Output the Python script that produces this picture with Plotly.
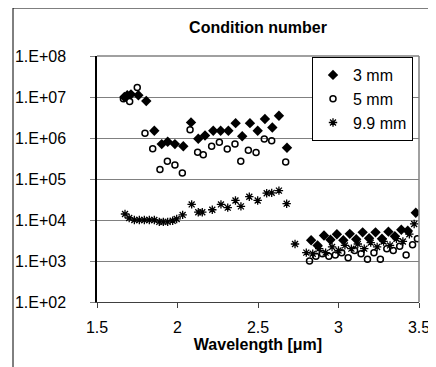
import plotly.graph_objects as go

# ---------------- data ----------------
wl_3mm = [1.670, 1.688, 1.711, 1.757, 1.806, 1.856, 1.902, 1.939, 1.984, 2.036, 2.084,
          2.129, 2.171, 2.222, 2.268, 2.316, 2.361, 2.402, 2.450, 2.498, 2.543, 2.589,
          2.630, 2.680,
          2.83, 2.87, 2.91, 2.95, 2.99, 3.03, 3.07, 3.11, 3.15,
          3.19, 3.23, 3.27, 3.31, 3.35, 3.39, 3.43, 3.48]
cn_3mm = [1.0e7, 1.1e7, 1.16e7, 1.1e7, 8.0e6, 1.5e6, 7.1e5, 8.1e5, 7.1e5, 6.3e5, 2.4e6,
          9.6e5, 1.15e6, 1.5e6, 1.5e6, 1.5e6, 2.3e6, 1.1e6, 2.3e6, 1.5e6, 2.9e6, 1.8e6,
          3.5e6, 5.8e5,
          3.2e3, 2.4e3, 4.2e3, 3.3e3, 4.5e3, 3.2e3, 4.6e3, 3.4e3, 5.0e3,
          3.6e3, 5.0e3, 3.5e3, 5.2e3, 4.0e3, 5.8e3, 5.5e3, 1.5e4]

wl_5mm = [1.664, 1.703, 1.750, 1.798, 1.846, 1.891, 1.937, 1.984, 2.030, 2.078,
          2.125, 2.160, 2.212, 2.260, 2.309, 2.357, 2.393, 2.440, 2.488, 2.539, 2.585,
          2.672,
          2.82, 2.86, 2.90, 2.94, 2.98, 3.02, 3.06, 3.10, 3.14,
          3.18, 3.22, 3.26, 3.30, 3.34, 3.38, 3.42, 3.46, 3.49]
cn_5mm = [9.1e6, 7.8e6, 1.7e7, 1.3e6, 5.5e5, 1.7e5, 2.7e5, 2.2e5, 1.4e5, 1.6e6,
          4.5e5, 3.9e5, 6.3e5, 7.9e5, 5.4e5, 7.1e5, 2.7e5, 5.0e5, 4.4e5, 9.5e5, 8.6e5,
          2.6e5,
          1.0e3, 1.3e3, 1.5e3, 1.3e3, 1.4e3, 1.6e3, 1.2e3, 1.8e3, 1.5e3,
          1.1e3, 1.6e3, 1.1e3, 2.0e3, 1.8e3, 2.3e3, 1.4e3, 2.5e3, 3.5e3]

wl_99mm = [1.674, 1.700, 1.732, 1.763, 1.794, 1.825, 1.856, 1.887, 1.912, 1.939, 1.970,
           1.995, 2.032, 2.088, 2.129, 2.154, 2.216, 2.270, 2.312, 2.360, 2.394, 2.446,
           2.498, 2.554, 2.585, 2.630, 2.678,
           2.73, 2.80, 2.84, 2.88, 2.92, 2.96, 3.00, 3.04, 3.08, 3.12, 3.16,
           3.20, 3.24, 3.28, 3.32, 3.36, 3.40, 3.44, 3.47]
cn_99mm = [1.4e4, 1.12e4, 1.0e4, 1.0e4, 1.0e4, 1.0e4, 1.0e4, 9.0e3, 9.0e3, 9.0e3, 9.6e3,
           1.06e4, 1.33e4, 2.4e4, 1.55e4, 1.55e4, 1.78e4, 2.4e4, 2.0e4, 3.0e4, 2.15e4, 3.7e4,
           3.0e4, 4.5e4, 4.6e4, 5.2e4, 2.5e4,
           2.6e3, 1.6e3, 1.5e3, 2.0e3, 1.6e3, 2.2e3, 1.8e3, 2.4e3, 2.0e3, 2.6e3, 2.0e3,
           2.8e3, 2.2e3, 3.0e3, 2.4e3, 3.5e3, 3.0e3, 4.5e3, 8.0e3]

series_names = ["3 mm", "5 mm", "9.9 mm"]
y_tickvals = [1e2, 1e3, 1e4, 1e5, 1e6, 1e7, 1e8]
y_ticktext = ["1.E+02", "1.E+03", "1.E+04", "1.E+05", "1.E+06", "1.E+07", "1.E+08"]
x_tickvals = [1.5, 2.0, 2.5, 3.0, 3.5]
x_ticktext = ["1.5", "2", "2.5", "3", "3.5"]

FONT = "Liberation Sans, Arial, sans-serif"

# page has an 8px body margin: figure occupies 8..436 x 8..367 of the window
W, H = 428, 359
L, T = 89, 48
PW, PH = 322, 246

fig = go.Figure()
fig.add_trace(go.Scatter(x=wl_3mm, y=cn_3mm, mode="markers", name=series_names[0],
                         marker=dict(symbol="diamond", size=8, color="black")))
fig.add_trace(go.Scatter(x=wl_5mm, y=cn_5mm, mode="markers", name=series_names[1],
                         marker=dict(symbol="circle-open", size=6, color="black",
                                     line=dict(width=1.5, color="black"))))
fig.add_trace(go.Scatter(x=wl_99mm, y=cn_99mm, mode="markers", name=series_names[2],
                         marker=dict(symbol="asterisk-open", size=7, color="black",
                                     line=dict(width=1.3, color="black"))))

fig.update_layout(
    width=W, height=H,
    margin=dict(l=L, r=W - L - PW, t=T, b=H - T - PH, autoexpand=False),
    paper_bgcolor="white", plot_bgcolor="white",
    font=dict(family=FONT, size=16, color="black"),
    title=dict(text="<b>Condition number</b>", x=(258 - 8) / W, xanchor="center",
               xref="container", yref="container",
               y=1 - (27 - 8) / H, yanchor="middle", font=dict(size=16, family=FONT)),
    showlegend=True,
    legend=dict(x=(312 - 97) / PW, y=(302 - 57) / PH, xanchor="left", yanchor="top",
                bgcolor="white", bordercolor="black", borderwidth=1,
                font=dict(size=16, family=FONT), tracegroupgap=0,
                itemwidth=30),
    shapes=[
        dict(type="line", xref="paper", yref="paper",
             x0=(13 - 97) / PW, x1=(440 - 97) / PW,
             y0=(302 - 8) / PH, y1=(302 - 8) / PH,
             line=dict(color="black", width=1)),
        dict(type="line", xref="paper", yref="paper",
             x0=(13 - 97) / PW, x1=(13 - 97) / PW,
             y0=(302 - 370) / PH, y1=(302 - 8) / PH,
             line=dict(color="black", width=1)),
        dict(type="line", xref="paper", yref="paper", x0=0, x1=1, y0=1, y1=1,
             line=dict(color="#808080", width=1.5)),
        dict(type="line", xref="paper", yref="paper", x0=1, x1=1, y0=0, y1=1,
             line=dict(color="#808080", width=1.5)),
    ],
)

fig.update_xaxes(range=[1.5, 3.5], tickvals=x_tickvals, ticktext=x_ticktext,
                 automargin=False,
                 showgrid=False, showline=True, linecolor="#404040", linewidth=1,
                 mirror=False, ticks="outside", ticklen=5, tickcolor="#404040",
                 zeroline=False, tickfont=dict(size=16), ticklabelstandoff=6,
                 title=dict(text="<b>Wavelength [μm]</b>", standoff=3,
                            font=dict(size=16)))
fig.update_yaxes(type="log", range=[2, 8], tickvals=y_tickvals, ticktext=y_ticktext,
                 automargin=False,
                 showgrid=True, gridcolor="#808080", gridwidth=1,
                 showline=True, linecolor="black", linewidth=1.5,
                 ticks="outside", ticklen=5, tickcolor="#808080",
                 zeroline=False, tickfont=dict(size=16), ticklabelstandoff=21)

fig.write_html("out.html")
